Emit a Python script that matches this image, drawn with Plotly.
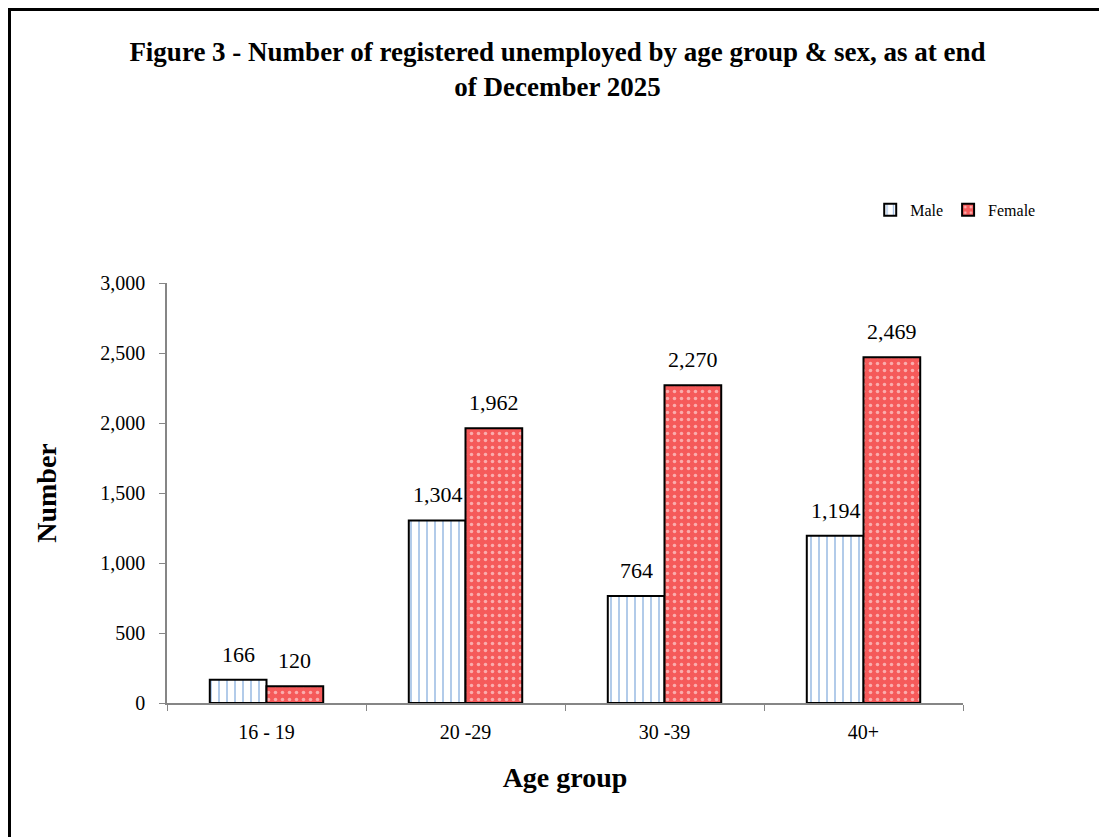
import plotly.graph_objects as go

age_groups = ["16 - 19", "20 -29", "30 -39", "40+"]
male = [166, 1304, 764, 1194]
female = [120, 1962, 2270, 2469]
y_ticks = [0, 500, 1000, 1500, 2000, 2500, 3000]

serif = "Liberation Serif, Times New Roman, serif"

fig = go.Figure()

fig.add_trace(
    go.Bar(
        x=age_groups,
        y=male,
        name="Male",
        marker=dict(
            color="white",
            line=dict(color="black", width=2),
            pattern=dict(shape="|", fgcolor="#3d7cc9", bgcolor="white",
                         size=8, solidity=0.2),
        ),
    )
)

fig.add_trace(
    go.Bar(
        x=age_groups,
        y=female,
        name="Female",
        marker=dict(
            color="#f55a5a",
            line=dict(color="black", width=2),
            pattern=dict(shape=".", fgcolor="white", bgcolor="#f55a5a",
                         size=7, solidity=0.2),
        ),
    )
)

# data labels above each bar (half a bar width either side of the category)
for values, shift in [(male, -28), (female, 28)]:
    for cat, v in zip(age_groups, values):
        fig.add_annotation(
            x=cat, y=v, text=f"{v:,}", showarrow=False,
            xshift=shift, yshift=11, yanchor="bottom",
            font=dict(family=serif, size=22, color="black"),
        )

# outer frame around the whole chart
fig.add_shape(
    type="rect", xref="paper", yref="paper",
    x0=(1.5 - 159) / 796, x1=(1120 - 159) / 796,
    y0=-(845 - 695) / 420, y1=1 + (275 - 1.5) / 420,
    line=dict(color="black", width=3),
)

fig.update_layout(
    title=dict(
        text="Figure 3 - Number of registered unemployed by age group & sex, as at end<br>of December 2025",
        x=0.5, xanchor="center", y=0.936, yanchor="top",
        font=dict(family=serif, size=27, color="black", weight="bold"),
    ),
    width=1099,
    height=829,
    margin=dict(l=159, r=144, t=275, b=134, autoexpand=False),
    plot_bgcolor="white",
    paper_bgcolor="white",
    font=dict(family=serif, color="black"),
    barmode="group",
    bargap=0.43,
    bargroupgap=0,
    showlegend=True,
    legend=dict(
        orientation="h", x=1.097, xanchor="right", y=1.174, yanchor="middle",
        font=dict(family=serif, size=16, color="black"),
        itemwidth=30, traceorder="normal",
    ),
    xaxis=dict(
        title=dict(text="Age group", font=dict(family=serif, size=28, weight="bold"), standoff=26),
        showline=True, linecolor="#868686", linewidth=1.5,
        ticks="outside", tickson="boundaries", ticklen=6, tickcolor="#868686",
        ticklabelstandoff=10, automargin=False,
        tickfont=dict(family=serif, size=20),
    ),
    yaxis=dict(
        title=dict(text="Number", font=dict(family=serif, size=28, weight="bold"), standoff=35),
        range=[0, 3000], tickvals=y_ticks, tickformat=",",
        showline=True, linecolor="#868686", linewidth=1.5,
        ticks="outside", ticklen=6, tickcolor="#868686",
        ticklabelstandoff=10, automargin=False,
        showgrid=False, zeroline=False,
        tickfont=dict(family=serif, size=20),
    ),
)

fig.write_html("out.html")
